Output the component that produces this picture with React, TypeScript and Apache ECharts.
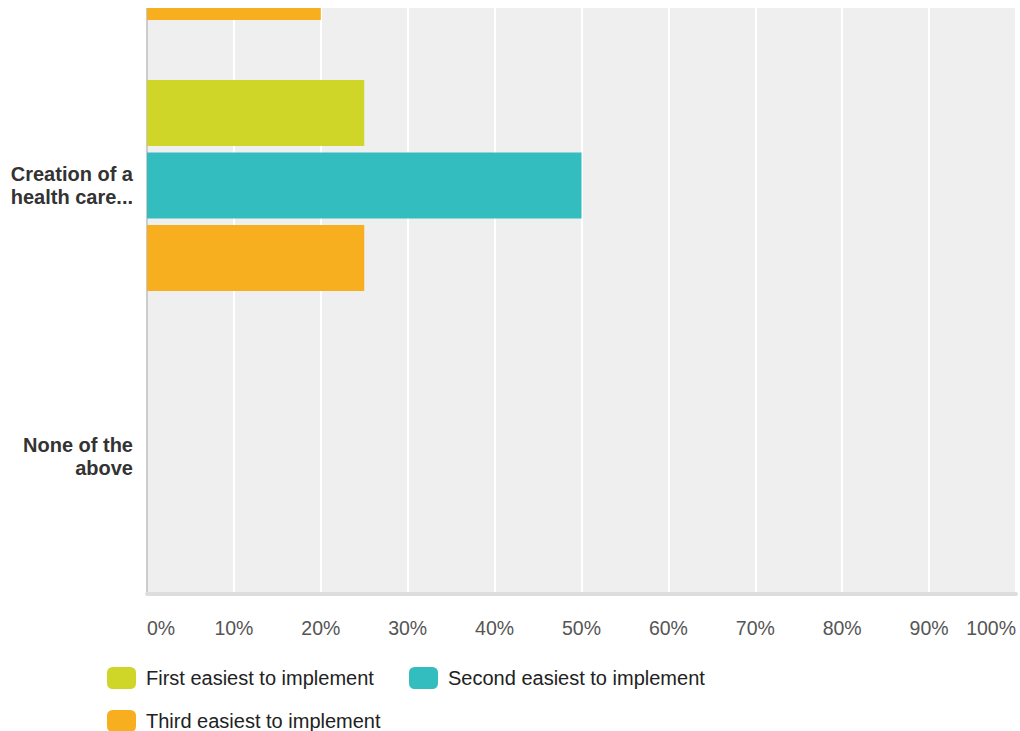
import React, { useEffect, useRef } from "react";
import * as echarts from "echarts";

const categories = ["", "Creation of a\nhealth care...", "None of the\nabove"];
const seriesNames = [
  "First easiest to implement",
  "Second easiest to implement",
  "Third easiest to implement",
];
const firstValues = [null, 25, 0];
const secondValues = [null, 50, 0];
const thirdValues = [20, 25, 0];
const colors = ["#cfd628", "#33bdbe", "#f7ae1f"];
const xTicks = [0, 10, 20, 30, 40, 50, 60, 70, 80, 90, 100];

const FONT = "'Liberation Sans', Arial, Helvetica, sans-serif";
const SHIFT = 221; // part of the chart scrolled above the visible page

export default function App() {
  const ref = useRef<HTMLDivElement>(null);
  useEffect(() => {
    if (!ref.current) return;
    const chart = echarts.init(ref.current, undefined, { renderer: "svg" });
    const values = [firstValues, secondValues, thirdValues];
    const legendPos = [
      { left: 107, top: 667 },
      { left: 409, top: 667 },
      { left: 107, top: 710 },
    ];
    chart.setOption({
      animation: false,
      backgroundColor: "#ffffff",
      textStyle: { fontFamily: FONT },
      grid: {
        left: 147,
        right: 4,
        top: 0,
        bottom: 139,
        show: true,
        backgroundColor: "#efefef",
        borderWidth: 0,
        containLabel: false,
      },
      xAxis: {
        type: "value",
        min: xTicks[0],
        max: xTicks[xTicks.length - 1],
        interval: 10,
        offset: 2,
        axisLine: { show: true, lineStyle: { color: "#dddddd", width: 4 } },
        axisTick: { show: false },
        splitLine: { show: true, lineStyle: { color: "#ffffff", width: 2 } },
        axisLabel: {
          formatter: "{value}%",
          fontSize: 19.5,
          color: "#555555",
          margin: 24,
          fontFamily: FONT,
          alignMinLabel: "left",
          alignMaxLabel: "right",
        },
      },
      yAxis: {
        type: "category",
        data: categories,
        inverse: true,
        offset: 1,
        axisLine: { show: true, lineStyle: { color: "#cccccc", width: 2 } },
        axisTick: { show: false },
        splitLine: { show: false },
        axisLabel: {
          fontSize: 20,
          fontWeight: "bold",
          color: "#333333",
          lineHeight: 23,
          margin: 13,
          fontFamily: FONT,
        },
      },
      legend: seriesNames.map((name, i) => ({
        data: [name],
        left: legendPos[i].left,
        top: legendPos[i].top + SHIFT,
        padding: 0,
        itemWidth: 29,
        itemHeight: 22,
        icon: "roundRect",
        selectedMode: false,
        textStyle: {
          fontSize: 20,
          color: "#222222",
          fontFamily: FONT,
          padding: [0, 0, 3, 5],
        },
      })),
      series: seriesNames.map((name, i) => ({
        name,
        type: "bar",
        data: values[i],
        barWidth: 66,
        barGap: "10%",
        itemStyle: { color: colors[i] },
      })),
      graphic: [
        {
          type: "rect",
          left: 0,
          top: SHIFT,
          shape: { width: 1020, height: 8 },
          style: { fill: "#ffffff" },
          z: 100,
        },
      ],
    });
    return () => chart.dispose();
  }, []);
  return (
    <div
      ref={ref}
      style={{
        position: "fixed",
        left: 0,
        top: -SHIFT,
        width: 1020,
        height: 731 + SHIFT,
      }}
    />
  );
}
